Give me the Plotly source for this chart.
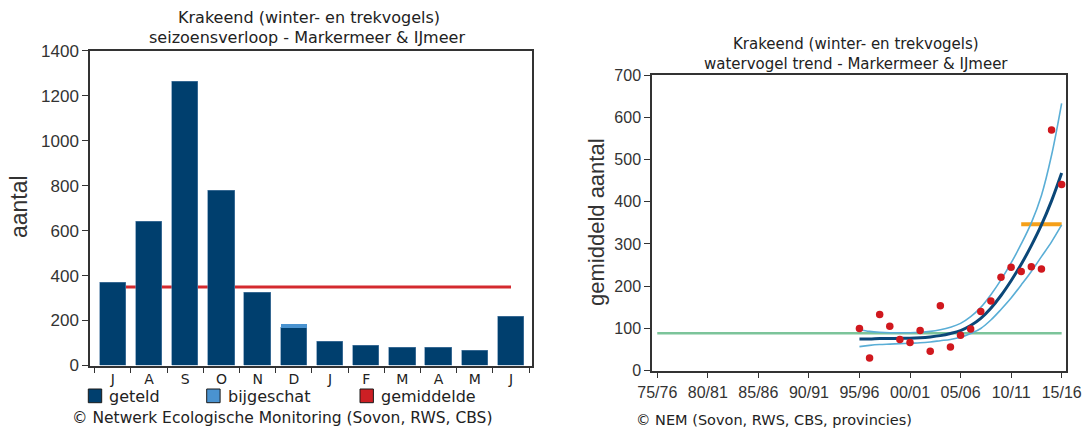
import numpy as np
import plotly.graph_objects as go

W, H = 1084, 430

# seizoensverloop, juli t/m juni
maanden = ["J", "A", "S", "O", "N", "D", "J", "F", "M", "A", "M", "J"]
geteld = [367, 641, 1260, 779, 325, 166, 108, 88, 80, 80, 67, 215]
bijgeschat = [0, 0, 0, 0, 0, 18, 0, 0, 0, 0, 0, 0]

# watervogel trend per seizoen (startjaar)
seizoenen = list(range(1995, 2016))
gemiddeld_aantal = [100, 30, 133, 105, 74, 67, 95, 46, 154, 56, 84,
                    99, 140, 165, 221, 245, 235, 246, 241, 570, 441]
trend = [75, 75, 76, 76, 77, 77, 78, 80, 83, 88, 95,
         107, 124, 148, 178, 213, 252, 296, 345, 402, 468]
trend_boven = [97, 93, 91, 90, 90, 90, 91, 93, 97, 103, 112,
               128, 150, 180, 215, 255, 300, 350, 415, 510, 633]
trend_onder = [57, 60, 62, 63, 64, 65, 66, 68, 71, 74, 79,
               88, 100, 120, 145, 172, 203, 235, 270, 305, 345]
as_jaren = [1975, 1980, 1985, 1990, 1995, 2000, 2005, 2010, 2015]
as_labels = ["75/76", "80/81", "85/86", "90/91", "95/96",
             "00/01", "05/06", "10/11", "15/16"]

DONKERBLAUW = "#003f6e"
LICHTBLAUW = "#4a93d0"
ROOD = "#cc1f24"
AS = "#333333"


def px(x):
    return x / W


def py(y):
    return 1 - y / H


fig = go.Figure()

# gemiddelde over het seizoen (achter de staven)
gem = float(np.mean(np.array(geteld) + np.array(bijgeschat)))
fig.add_trace(go.Scatter(
    x=list(range(len(maanden))), y=[gem] * len(maanden),
    mode="lines", line=dict(color="#d42a2e", width=3),
    xaxis="x", yaxis="y", showlegend=False, hoverinfo="skip",
))
fig.add_trace(go.Bar(
    x=list(range(len(maanden))), y=geteld, width=0.73,
    marker=dict(color=DONKERBLAUW, line=dict(color="#5a84aa", width=0.6)),
    xaxis="x3", yaxis="y", showlegend=False,
))
fig.add_trace(go.Bar(
    x=list(range(len(maanden))), y=bijgeschat, width=0.73,
    marker=dict(color=LICHTBLAUW, line=dict(width=0)),
    xaxis="x3", yaxis="y", showlegend=False,
))

# trend
gem_begin = float(np.mean(gemiddeld_aantal[:5]))
gem_eind = float(np.mean(gemiddeld_aantal[-5:]))
fig.add_trace(go.Scatter(
    x=[as_jaren[0], as_jaren[-1]], y=[gem_begin, gem_begin],
    mode="lines", line=dict(color="#7cc49a", width=2.5),
    xaxis="x2", yaxis="y2", showlegend=False,
))
fig.add_trace(go.Scatter(
    x=[seizoenen[-5], seizoenen[-1]], y=[gem_eind, gem_eind],
    mode="lines", line=dict(color="#f5a01a", width=4),
    xaxis="x2", yaxis="y2", showlegend=False,
))
for band in (trend_boven, trend_onder):
    fig.add_trace(go.Scatter(
        x=seizoenen, y=band, mode="lines", line_shape="spline",
        line=dict(color="#5aaed6", width=1.6),
        xaxis="x2", yaxis="y2", showlegend=False,
    ))
fig.add_trace(go.Scatter(
    x=seizoenen, y=trend, mode="lines", line_shape="spline",
    line=dict(color="#0b4778", width=3),
    xaxis="x2", yaxis="y2", showlegend=False,
))
fig.add_trace(go.Scatter(
    x=seizoenen, y=gemiddeld_aantal, mode="markers",
    marker=dict(color="#d0181e", size=7.5),
    xaxis="x2", yaxis="y2", showlegend=False,
))

asstijl = dict(showline=True, linecolor=AS, linewidth=1.5, mirror=True,
               ticks="outside", ticklen=6, tickcolor=AS, tickwidth=1,
               showgrid=False, zeroline=False, automargin=False)
links_dom = [px(90), px(532)]
rechts_dom = [px(652), px(1066)]
x_bereik = [-0.63, 11.58]

fig.update_layout(
    width=W, height=H,
    margin=dict(l=0, r=0, t=0, b=0),
    paper_bgcolor="white", plot_bgcolor="white",
    barmode="stack", bargap=0,
    xaxis=dict(domain=links_dom, range=x_bereik,
               tickvals=[i - 0.5 for i in range(len(maanden) + 1)],
               showticklabels=False, anchor="y", **asstijl),
    xaxis3=dict(overlaying="x", range=x_bereik, anchor="y",
                tickvals=list(range(len(maanden))), ticktext=maanden,
                ticks="outside", ticklen=1, tickcolor="rgba(0,0,0,0)",
                showline=False, showgrid=False, zeroline=False,
                automargin=False,
                tickfont=dict(family="DejaVu Sans", size=14, color="#222")),
    yaxis=dict(domain=[py(365.5), py(50.7)], range=[0, 1400], dtick=200,
               anchor="x",
               tickfont=dict(family="Liberation Sans", size=17, color=AS),
               **asstijl),
    xaxis2=dict(domain=rechts_dom, range=[1974.48, 2015.43], anchor="y2",
                tickvals=as_jaren, ticktext=as_labels,
                tickfont=dict(family="Liberation Sans", size=16, color=AS),
                **asstijl),
    yaxis2=dict(domain=[py(370.7), py(75)], range=[0, 700], dtick=100,
                anchor="x2",
                tickfont=dict(family="Liberation Sans", size=16, color=AS),
                **asstijl),
)


def tekst(x, y, s, size, family="DejaVu Sans", anchor="center",
          color="#222", angle=0):
    fig.add_annotation(x=px(x), y=py(y), xref="paper", yref="paper",
                       text=s, showarrow=False, xanchor=anchor,
                       yanchor="middle", textangle=angle,
                       font=dict(family=family, size=size, color=color))


# titels
tekst(309, 17, "Krakeend (winter- en trekvogels)", 16)
tekst(307, 38, "seizoensverloop - Markermeer &amp; IJmeer", 16)
tekst(856, 44, "Krakeend (winter- en trekvogels)", 15)
tekst(856, 64, "watervogel trend - Markermeer &amp; IJmeer", 15)

# as-titels
tekst(19, 207, "aantal", 23, family="Liberation Sans", color=AS, angle=-90)
tekst(596, 222, "gemiddeld aantal", 22, family="Liberation Sans",
      color=AS, angle=-90)

# legenda
legenda = [("geteld", DONKERBLAUW, 88.3), ("bijgeschat", LICHTBLAUW, 206.7),
           ("gemiddelde", ROOD, 360)]
for naam, kleur, x0 in legenda:
    fig.add_shape(type="rect", xref="paper", yref="paper",
                  x0=px(x0), x1=px(x0 + 13.4), y0=py(402.7), y1=py(389),
                  fillcolor=kleur, line=dict(color="#1a1a1a", width=1))
    tekst(x0 + 19, 396, naam, 16, anchor="left")

tekst(70, 418, "© Netwerk Ecologische Monitoring (Sovon, RWS, CBS)", 15.5,
      anchor="left")
tekst(634, 420, "© NEM (Sovon, RWS, CBS, provincies)", 14.5, anchor="left")

fig.write_html("out.html",
               config={"displayModeBar": False},
               post_script="document.body.style.margin='0';")
